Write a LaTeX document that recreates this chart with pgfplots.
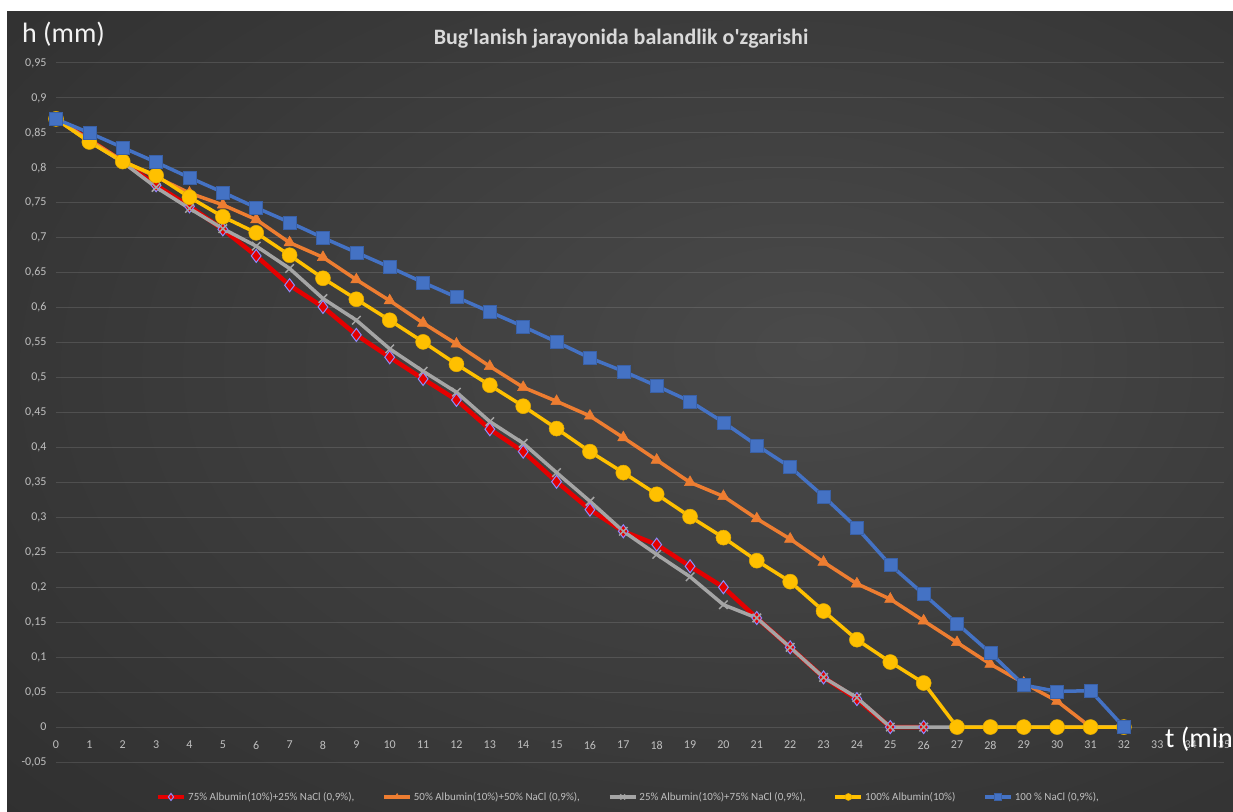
\documentclass[border=0pt]{standalone}
\usepackage{fontspec}
\setmainfont{Carlito}
\usepackage{pgfplots}
\pgfplotsset{compat=1.18}
\definecolor{cred}{HTML}{E40000}
\definecolor{corange}{HTML}{ED7D31}
\definecolor{cgray}{HTML}{A5A5A5}
\definecolor{cyellow}{HTML}{FFC000}
\definecolor{cblue}{HTML}{4472C4}
\definecolor{tick}{HTML}{BFBFBF}
\definecolor{titlec}{HTML}{D9D9D9}
\definecolor{bgin}{HTML}{4A4A4A}
\definecolor{bgmid}{HTML}{363636}
\definecolor{bgout}{HTML}{1C1C1C}
\pgfdeclareradialshading{bgshade}{\pgfpoint{8bp}{4bp}}{color(0bp)=(bgin); color(30bp)=(bgmid); color(72bp)=(bgout)}
\begin{document}
\begin{tikzpicture}[x=1pt,y=1pt]
\fill[white] (0,0) rectangle (1233,811);
\shade[shading=bgshade] (7,0) rectangle (1233,799);
\useasboundingbox (0,0) rectangle (1233,811);
\node[anchor=base west, inner sep=0, text=white!95!black, font=\fontsize{28}{32}\selectfont] at (22,768) {h (mm)};
\node[anchor=base, inner sep=0, text=titlec, font=\bfseries\fontsize{22}{26}\selectfont] at (621,766) {Bug\textquotesingle lanish jarayonida balandlik o\textquotesingle zgarishi};
\begin{axis}[
  at={(56pt,49pt)}, anchor=south west,
  scale only axis, width=1168pt, height=699pt,
  xmin=0, xmax=35, ymin=-0.05, ymax=0.95,
  clip=false,
  axis line style={draw=none},
  major tick length=0pt,
  xtick={0,1,...,35},
  ytick={-0.05,0,0.05,0.1,0.15,0.2,0.25,0.3,0.35,0.4,0.45,0.5,0.55,0.6,0.65,0.7,0.75,0.8,0.85,0.9,0.95},
  ymajorgrids,
  grid style={draw=white, opacity=0.12, line width=1pt},
  /pgf/number format/.cd, use comma, fixed, precision=2, assume math mode=true,
  /pgfplots/.cd,
  tick label style={text=tick, font=\fontsize{12}{14}\selectfont},
  yticklabel style={xshift=-6pt},
  xticklabel style={anchor=center, yshift=17pt},
  legend style={at={(0.49,-0.05)}, anchor=center, draw=none, fill=none,
    text=tick, font=\fontsize{11}{13}\selectfont, legend columns=-1,
    /tikz/every even column/.append style={column sep=26pt}},
  legend image code/.code={\draw[mark repeat=2,mark phase=2,#1,mark size=3.5pt] plot coordinates {(0pt,0pt) (13pt,0pt) (26pt,0pt)};},
]
\addplot[cred, line width=4.5pt, mark=diamond*, mark size=6.5pt, mark options={solid, fill=cred, draw=blue!45!white, line width=1pt}] coordinates {
(0,0.87)(1,0.84)(2,0.809)(3,0.775)(4,0.745)(5,0.712)(6,0.674)(7,0.632)(8,0.601)(9,0.561)(10,0.529)(11,0.498)(12,0.468)(13,0.426)(14,0.394)(15,0.351)(16,0.311)(17,0.28)(18,0.261)(19,0.23)(20,0.2)(21,0.156)(22,0.114)(23,0.071)(24,0.04)(25,0)(26,0)};
\addlegendentry{75\% Albumin(10\%)+25\% NaCl (0,9\%),}
\addplot[corange, line width=3.5pt, mark=triangle*, mark size=6.5pt, mark options={solid, fill=corange, draw=corange, line width=0.5pt}] coordinates {
(0,0.87)(1,0.84)(2,0.81)(3,0.787)(4,0.764)(5,0.747)(6,0.726)(7,0.693)(8,0.672)(9,0.64)(10,0.61)(11,0.578)(12,0.548)(13,0.516)(14,0.486)(15,0.466)(16,0.445)(17,0.414)(18,0.382)(19,0.35)(20,0.33)(21,0.298)(22,0.269)(23,0.236)(24,0.205)(25,0.183)(26,0.152)(27,0.121)(28,0.09)(29,0.063)(30,0.037)(31,0)(32,0)};
\addlegendentry{50\% Albumin(10\%)+50\% NaCl (0,9\%),}
\addplot[cgray, line width=3.5pt, mark=x, mark size=6pt, mark options={solid, draw=cgray, line width=1.5pt}] coordinates {
(0,0.87)(1,0.838)(2,0.808)(3,0.772)(4,0.742)(5,0.713)(6,0.688)(7,0.656)(8,0.613)(9,0.582)(10,0.541)(11,0.509)(12,0.479)(13,0.437)(14,0.406)(15,0.364)(16,0.323)(17,0.28)(18,0.247)(19,0.215)(20,0.175)(21,0.156)(22,0.114)(23,0.071)(24,0.042)(25,0)(26,0)(27,0)(28,0)(29,0)(30,0)(31,0)(32,0)};
\addlegendentry{25\% Albumin(10\%)+75\% NaCl (0,9\%),}
\addplot[cyellow, line width=3.5pt, mark=*, mark size=7.5pt, mark options={solid, fill=cyellow, draw=cyellow!90!black, line width=0.5pt}] coordinates {
(0,0.87)(1,0.837)(2,0.809)(3,0.789)(4,0.758)(5,0.73)(6,0.707)(7,0.675)(8,0.642)(9,0.612)(10,0.582)(11,0.551)(12,0.519)(13,0.489)(14,0.459)(15,0.427)(16,0.394)(17,0.364)(18,0.333)(19,0.301)(20,0.271)(21,0.238)(22,0.208)(23,0.166)(24,0.125)(25,0.093)(26,0.063)(27,0)(28,0)(29,0)(30,0)(31,0)(32,0)};
\addlegendentry{100\% Albumin(10\%)}
\addplot[cblue, line width=3.5pt, mark=square*, mark size=6.5pt, mark options={solid, fill=cblue, draw=cblue!85!black, line width=0.5pt}] coordinates {
(0,0.87)(1,0.85)(2,0.829)(3,0.808)(4,0.786)(5,0.765)(6,0.743)(7,0.722)(8,0.7)(9,0.679)(10,0.658)(11,0.636)(12,0.615)(13,0.594)(14,0.573)(15,0.551)(16,0.528)(17,0.509)(18,0.488)(19,0.466)(20,0.436)(21,0.403)(22,0.372)(23,0.33)(24,0.285)(25,0.232)(26,0.19)(27,0.148)(28,0.106)(29,0.06)(30,0.051)(31,0.052)(32,0)};
\addlegendentry{100 \% NaCl (0,9\%),}
\end{axis}
\node[anchor=base west, inner sep=0, text=white, font=\fontsize{28}{32}\selectfont] at (1165,64) {t (min)};
\end{tikzpicture}
\end{document}
